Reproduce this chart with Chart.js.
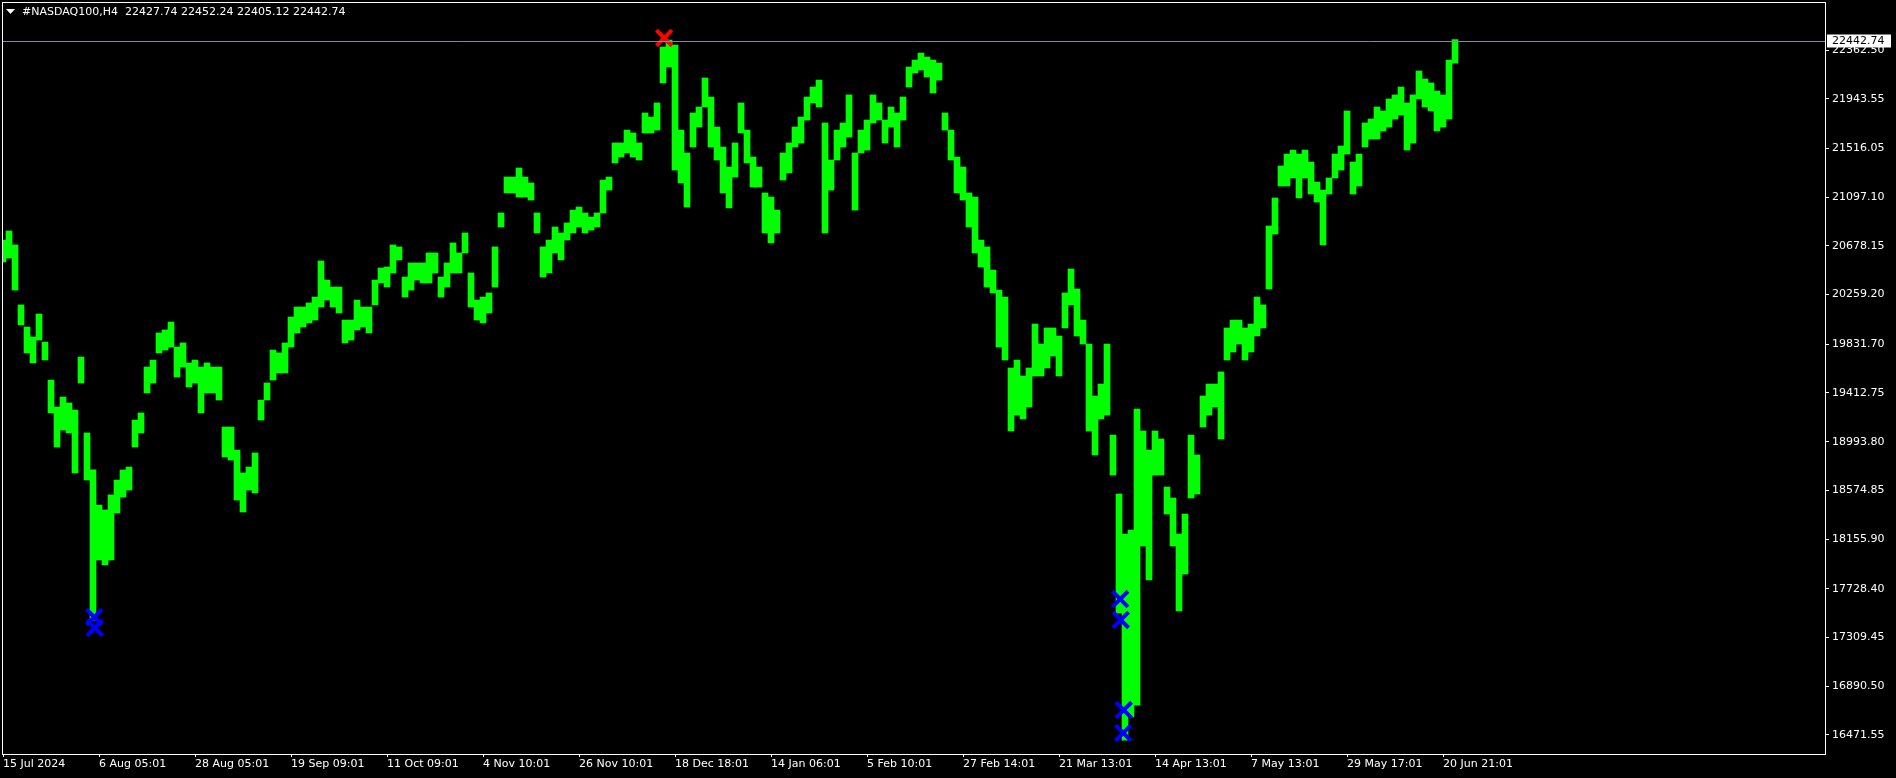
<!DOCTYPE html>
<html><head><meta charset="utf-8">
<script src="https://cdn.jsdelivr.net/npm/chart.js@4.4.1/dist/chart.umd.min.js"></script>
<style>html,body{margin:0;padding:0;background:#000;overflow:hidden}#wrap{width:1896px;height:778px}</style>
</head><body><div id="wrap"><canvas id="c" width="1896" height="778"></canvas></div>
<script>
// ---- data ----
const symbolTitle = '#NASDAQ100,H4  22427.74 22452.24 22405.12 22442.74';
const currentPrice = 22442.74;
const timeLabels = ['15 Jul 2024','6 Aug 05:01','28 Aug 05:01','19 Sep 09:01','11 Oct 09:01','4 Nov 10:01','26 Nov 10:01','18 Dec 18:01','14 Jan 06:01','5 Feb 10:01','27 Feb 14:01','21 Mar 13:01','14 Apr 13:01','7 May 13:01','29 May 17:01','20 Jun 21:01'];
const priceTicks = [22362.50,21943.55,21516.05,21097.10,20678.15,20259.20,19831.70,19412.75,18993.80,18574.85,18155.90,17728.40,17309.45,16890.50,16471.55];
const highs = [
20728,20806,20686,20170,19980,19894,20092,19851,19524,19292,
19378,19327,19266,19722,19069,18751,18449,18407,18536,18664,
18751,18776,19180,19241,19636,19696,19929,19955,20023,19808,
19843,19671,19696,19636,19671,19636,19636,19120,19120,18922,
18725,18776,18897,19352,19499,19782,19757,19843,20066,20152,
20152,20187,20238,20548,20384,20324,20324,20040,20040,20212,
20152,20152,20384,20488,20496,20686,20669,20410,20531,20531,
20531,20617,20617,20410,20531,20703,20617,20789,20445,20212,
20238,20273,20669,20961,21270,21270,21348,21270,21219,20961,
20669,20728,20840,20789,20875,20986,21012,20961,20926,20961,
21244,21270,21563,21563,21674,21649,21563,21821,21786,21907,
22388,22448,22405,21674,21477,21821,21872,22122,21958,21700,
21528,21356,21563,21907,21674,21442,21356,21133,21098,20986,
21477,21563,21700,21786,21958,22044,22104,21735,21416,21674,
21735,21976,21477,21674,21760,21976,21907,21760,21872,21821,
21958,22216,22276,22336,22302,22276,22250,21821,21674,21442,
21356,21133,21098,20728,20669,20470,20298,20238,19628,19696,
19559,19628,20006,19834,19972,19972,19903,20273,20479,20307,
20040,19834,19387,19490,19834,19051,18544,18200,18234,19275,
19086,18922,19086,19017,18604,18510,18200,18372,19051,18880,
19387,19490,19490,19594,19972,20040,20040,19972,20006,20238,
20170,20849,21090,21365,21468,21502,21468,21502,21399,21227,
21158,21262,21468,21537,21838,21399,21468,21735,21769,21872,
21838,21941,21976,22044,21907,21976,22182,22113,22079,22010,
21976,22276,22452];
const lows = [
20539,20574,20298,19998,19757,19671,19868,19697,19241,18948,
19094,19069,18725,19499,18664,17460,17977,17934,17977,18381,
18518,18578,18948,19069,19413,19499,19757,19782,19808,19550,
19636,19464,19499,19241,19413,19413,19352,18862,18836,18492,
18389,18578,18553,19180,19352,19524,19585,19585,19808,19929,
19980,20015,20040,20152,20212,20152,20101,19843,19868,19955,
19980,19929,20170,20359,20324,20445,20557,20238,20298,20384,
20359,20359,20445,20238,20324,20445,20445,20617,20152,20040,
20015,20101,20324,20840,21133,21133,21098,21098,21072,20789,
20410,20445,20617,20557,20728,20789,20840,20789,20814,20840,
20961,21158,21391,21442,21477,21442,21416,21649,21649,21674,
22079,22216,21330,21219,21012,21528,21700,21872,21528,21416,
21133,21004,21270,21649,21391,21184,21184,20789,20703,20789,
21244,21305,21528,21563,21760,21907,21872,20789,21158,21416,
21528,21614,20986,21477,21502,21735,21760,21563,21700,21528,
21760,22044,22165,22190,22130,21993,22104,21674,21416,21133,
21072,20840,20617,20496,20324,20273,19808,19696,19086,19223,
19189,19292,19559,19559,19628,19731,19559,19972,20170,19903,
19834,19086,18880,19189,19223,18707,17520,16428,16626,16729,
18097,17805,18707,18707,18372,18097,17538,17856,18510,18544,
19120,19223,19292,19017,19696,19765,19834,19696,19765,19903,
19972,20307,20780,21193,21193,21262,21090,21262,21124,21055,
20686,21124,21262,21330,21468,21124,21193,21528,21597,21597,
21666,21700,21769,21803,21502,21563,21941,21872,21838,21666,
21700,21769,22250];
const lowSignalIdx = [15.2, 15.3, 186.2, 186.3, 186.8, 186.7];
const lowSignalPrice = [17486, 17392, 17641, 17461, 16686, 16489];
const highSignalIdx = [110.2];
const highSignalPrice = [22466];
const labelStep = 16;

// ---- build ----
const barData = highs.map((h, i) => ({x: i, y: [lows[i], h]}));
const lowPts = lowSignalIdx.map((x, i) => ({x, y: lowSignalPrice[i]}));
const highPts = highSignalIdx.map((x, i) => ({x, y: highSignalPrice[i]}));

Chart.defaults.font.family = "'DejaVu Sans', sans-serif";
Chart.defaults.font.size = 11;
Chart.defaults.color = '#ffffff';

function noPad(s) { s.paddingLeft = 0; s.paddingRight = 0; s.paddingTop = 0; s.paddingBottom = 0; }

const overlay = {
  id: 'overlay',
  afterDraw(chart) {
    const ctx = chart.ctx, a = chart.chartArea, ys = chart.scales.y;
    ctx.save();
    const py = Math.round(ys.getPixelForValue(currentPrice)) + 0.5;
    ctx.strokeStyle = '#7f8c9c'; ctx.lineWidth = 1;
    ctx.beginPath(); ctx.moveTo(a.left, py); ctx.lineTo(a.right, py); ctx.stroke();
    ctx.strokeStyle = '#ffffff';
    ctx.strokeRect(a.left + 0.5, a.top + 0.5, a.right - a.left, a.bottom - a.top);
    ctx.fillStyle = '#ffffff';
    ctx.fillRect(a.right + 2, py - 7, 64, 13);
    ctx.fillStyle = '#000000';
    ctx.font = "11px 'DejaVu Sans'";
    ctx.textBaseline = 'middle'; ctx.textAlign = 'left';
    ctx.fillText(currentPrice.toFixed(2), a.right + 7, py);
    ctx.fillStyle = '#ffffff';
    ctx.beginPath(); ctx.moveTo(6, 9); ctx.lineTo(15, 9); ctx.lineTo(10.5, 14); ctx.closePath(); ctx.fill();
    ctx.fillText(symbolTitle, 22, 12);
    ctx.restore();
  }
};

new Chart(document.getElementById('c'), {
  data: {
    datasets: [
      {type: 'bar', data: barData, backgroundColor: '#00ff00', borderWidth: 0,
       barPercentage: 1, categoryPercentage: 1, order: 2},
      {type: 'scatter', data: lowPts, pointStyle: 'crossRot', radius: 11,
       borderColor: '#0000ff', backgroundColor: '#0000ff', borderWidth: 4, order: 1},
      {type: 'scatter', data: highPts, pointStyle: 'crossRot', radius: 11,
       borderColor: '#ff0000', backgroundColor: '#ff0000', borderWidth: 4, order: 1}
    ]
  },
  options: {
    responsive: false, animation: false, devicePixelRatio: 1,
    layout: {autoPadding: false, padding: {left: 2, top: 2, right: 0, bottom: 0}},
    plugins: {legend: {display: false}, tooltip: {enabled: false}},
    scales: {
      x: {
        type: 'linear', position: 'bottom', offset: false,
        min: -1/6, max: -1/6 + 1823/6,
        afterFit(s) { s.height = 24; noPad(s); },
        afterBuildTicks(s) { s.ticks = timeLabels.map((t, k) => ({value: k * labelStep})); },
        ticks: {autoSkip: false, maxRotation: 0, minRotation: 0, align: 'start', padding: 1,
                color: '#ffffff', callback: (v, k) => timeLabels[k]},
        grid: {display: true, offset: false, drawOnChartArea: false, drawTicks: true, tickLength: 3, color: '#ffffff'},
        border: {display: false}
      },
      y: {
        type: 'linear', position: 'right',
        min: 16308.15, max: 22775.3,
        afterFit(s) { s.width = 71; noPad(s); },
        afterBuildTicks(s) { s.ticks = priceTicks.map(v => ({value: v})); },
        ticks: {autoSkip: false, padding: 3, color: '#ffffff', callback: v => v.toFixed(2)},
        grid: {display: true, drawOnChartArea: false, drawTicks: true, tickLength: 4, color: '#ffffff'},
        border: {display: false}
      }
    }
  },
  plugins: [overlay]
});
</script>
</body></html>
